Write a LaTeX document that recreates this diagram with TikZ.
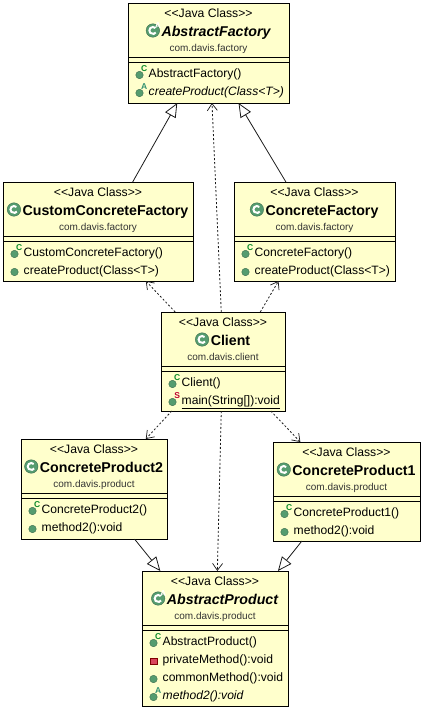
\documentclass[tikz,border=0pt]{standalone}
\usepackage{fontspec}
\setmainfont{Liberation Sans}[Ligatures=NoCommon]
\usetikzlibrary{arrows.meta}
\definecolor{boxfill}{HTML}{FFFFCC}
\definecolor{icongreen}{HTML}{559C6F}
\definecolor{privred}{HTML}{D9445A}
\tikzset{
    classbox/.style={draw=black, line width=1pt, fill=boxfill, inner sep=0pt, outer sep=0pt},
    stereo/.style={font=\fontsize{12.2}{14}\selectfont, anchor=base, inner sep=0pt},
    pkg/.style={font=\fontsize{10}{12}\selectfont, text=black!80, anchor=base, inner sep=0pt},
    titletext/.style={font=\fontsize{14.2}{16}\selectfont\bfseries, anchor=base, inner sep=0pt},
    optext/.style={font=\fontsize{12.1}{14}\selectfont, anchor=base west, inner sep=0pt},
    opdot/.style={circle, fill=icongreen, draw=icongreen!70!black, line width=0.4pt, minimum size=7.5pt, inner sep=0pt},
    opsquare/.style={rectangle, fill=privred, draw=red!50!black, line width=0.4pt, minimum size=6.5pt, inner sep=0pt},
    opsup/.style={font=\fontsize{8.5}{9}\selectfont\bfseries, inner sep=0pt},
    classicon/.style={circle, fill=icongreen, draw=icongreen!70!black, line width=0.4pt, minimum size=13.5pt, inner sep=0pt},
    inherit/.style={line width=0.8pt, draw=black!90, -{Triangle[open, fill=white, length=14pt, width=12pt]}},
    usesdep/.style={line width=0.8pt, draw=black!90, dash pattern=on 2pt off 2pt, -{Straight Barb[length=7pt, width=10pt, line width=0.7pt]}},
}
% box with head: name, centre, width, height, title, package
\newcommand{\classhead}[6]{
    \node[classbox, minimum width=#3pt, minimum height=#4pt] (#1) at (#2) {};
    \node[stereo] (#1-kind) at ([yshift=-14pt]#1.north) {\char`\<\kern0pt\char`\<Java Class\char`\>\kern0pt\char`\>};
    \node[titletext] (#1-title) at ([xshift=7.5pt,yshift=-33pt]#1.north) {#5};
    \node[classicon] (#1-icon) at ([xshift=-8.5pt,yshift=5.5pt]#1-title.base west) {};
    \draw[white, line width=2pt] ([shift={(45:3.5pt)}]#1-icon.center) arc[start angle=45, end angle=325, radius=3.5pt];
    \node[pkg] (#1-pkg) at ([yshift=-48.5pt]#1.north) {#6};
    \draw[line width=1pt] ([yshift=-54pt]#1.north west) -- ([yshift=-54pt]#1.north east);
    \draw[line width=1pt] ([yshift=-59pt]#1.north west) -- ([yshift=-59pt]#1.north east);
}
% one row of the operations part
\newcommand{\oprow}[4][opdot]{
    \node[optext] (#2-op#3) at ([xshift=20.5pt,yshift=-74.5pt-18pt*(#3-1)]#2.north west) {#4};
    \node[#1] (#2-dot#3) at ([xshift=-9pt,yshift=2.5pt]#2-op#3.base west) {};
}
\newcommand{\opmark}[4]{
    \node[opsup, text=#3] (#1-sup#2) at ([xshift=4.6pt,yshift=6pt]#1-dot#2.center) {#4};
}
\definecolor{markc}{HTML}{0A8A2A}
\definecolor{marka}{HTML}{2F8F6F}
\definecolor{marks}{HTML}{C00030}
\begin{document}
\begin{tikzpicture}[x=1pt, y=-1pt]
    \useasboundingbox (0,0) rectangle (424,710);
    \classhead{af}{208.5,53}{161}{100}{\itshape AbstractFactory}{com.davis.factory}
    \node[opsup, text=white] (af-abs) at ([xshift=5pt,yshift=5pt]af-icon.center) {A};
    \oprow{af}{1}{AbstractFactory()}
    \opmark{af}{1}{markc}{C}
    \oprow{af}{2}{\itshape createProduct(Class<T>)}
    \opmark{af}{2}{marka}{A}

    \classhead{ccf}{98,231.5}{190}{99}{CustomConcreteFactory}{com.davis.factory}
    \oprow{ccf}{1}{CustomConcreteFactory()}
    \opmark{ccf}{1}{markc}{C}
    \oprow{ccf}{2}{createProduct(Class<T>)}

    \classhead{cf}{314.5,231.5}{161}{99}{ConcreteFactory}{com.davis.factory}
    \oprow{cf}{1}{ConcreteFactory()}
    \opmark{cf}{1}{markc}{C}
    \oprow{cf}{2}{createProduct(Class<T>)}

    \classhead{client}{223,361.5}{124}{99}{Client}{com.davis.client}
    \oprow{client}{1}{Client()}
    \opmark{client}{1}{markc}{C}
    \oprow{client}{2}{\underline{main(String[]):void}}
    \opmark{client}{2}{marks}{S}

    \classhead{cptwo}{94,489}{146}{100}{ConcreteProduct2}{com.davis.product}
    \oprow{cptwo}{1}{ConcreteProduct2()}
    \opmark{cptwo}{1}{markc}{C}
    \oprow{cptwo}{2}{method2():void}

    \classhead{cpone}{346.5,491.5}{147}{99}{ConcreteProduct1}{com.davis.product}
    \oprow{cpone}{1}{ConcreteProduct1()}
    \opmark{cpone}{1}{markc}{C}
    \oprow{cpone}{2}{method2():void}

    \classhead{ap}{215,638.5}{146}{135}{\itshape AbstractProduct}{com.davis.product}
    \node[opsup, text=white] (ap-abs) at ([xshift=5pt,yshift=5pt]ap-icon.center) {A};
    \oprow{ap}{1}{AbstractProduct()}
    \opmark{ap}{1}{markc}{C}
    \oprow[opsquare]{ap}{2}{privateMethod():void}
    \oprow{ap}{3}{commonMethod():void}
    \oprow{ap}{4}{\itshape method2():void}
    \opmark{ap}{4}{marka}{A}

    % inheritance
    \draw[inherit] (ccf.55.5) -- (af.238.6);
    \draw[inherit] (cf.120.8) -- (af.301.4);
    \draw[inherit] (cptwo.309.4) -- (ap.129.2);
    \draw[inherit] (cpone.228) -- (ap.47.4);
    % dependencies from the client
    \draw[usesdep] (client.92.3) -- (af.274);
    \draw[usesdep] (client.134.1) -- (ccf.314.7);
    \draw[usesdep] (client.53.2) -- (cf.234.4);
    \draw[usesdep] (client.224.7) -- (cptwo.44.4);
    \draw[usesdep] (client.314.7) -- (cpone.133.8);
    \draw[usesdep] (client.268.8) -- (ap.88.3);
\end{tikzpicture}
\end{document}
